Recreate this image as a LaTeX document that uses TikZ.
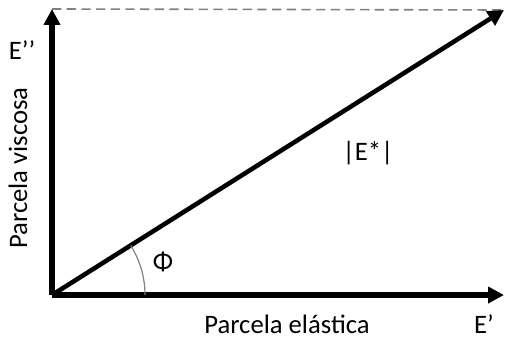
\documentclass[tikz,border=0pt]{standalone}
\usepackage{fontspec}
\setmainfont{Carlito}
\usetikzlibrary{arrows.meta}

\begin{document}
\begin{tikzpicture}[x=0.75pt,y=0.75pt,
    axis/.style={line width=3.8pt,-{Triangle[width=12pt,length=12pt]}},
    lbl/.style={font=\fontsize{20}{24}\selectfont}]
            \useasboundingbox (0,0) rectangle (505,340);
            \coordinate (O) at (52,45);
            \coordinate (ytop) at (52,331);
            \coordinate (xend) at (504,45);
            \coordinate (etip) at (504,330);
            \draw[gray,line width=1.2pt,dash pattern=on 7pt off 4pt] (ytop) -- (etip);
            \draw[axis] (O) -- (ytop);
            \draw[axis] (O) -- (xend);
            \draw[axis,line width=3.4pt] (O) -- (etip);
            \draw[gray,line width=0.9pt] ([shift={(0:93)}]O) arc (0:32.2:93);
            \node[lbl] (phi) at (163,78) {Φ};
            \node[lbl] (modE) at (368,187) {|E*|};
            \node[lbl] (Epp) at (22,290) {E’’};
            \node[lbl] (Ep) at (484,16) {E’};
            \node[lbl] (elast) at (287,16) {Parcela elástica};
            \node[lbl,rotate=90] (visc) at (18,172) {Parcela viscosa};
        \end{tikzpicture}
\end{document}
